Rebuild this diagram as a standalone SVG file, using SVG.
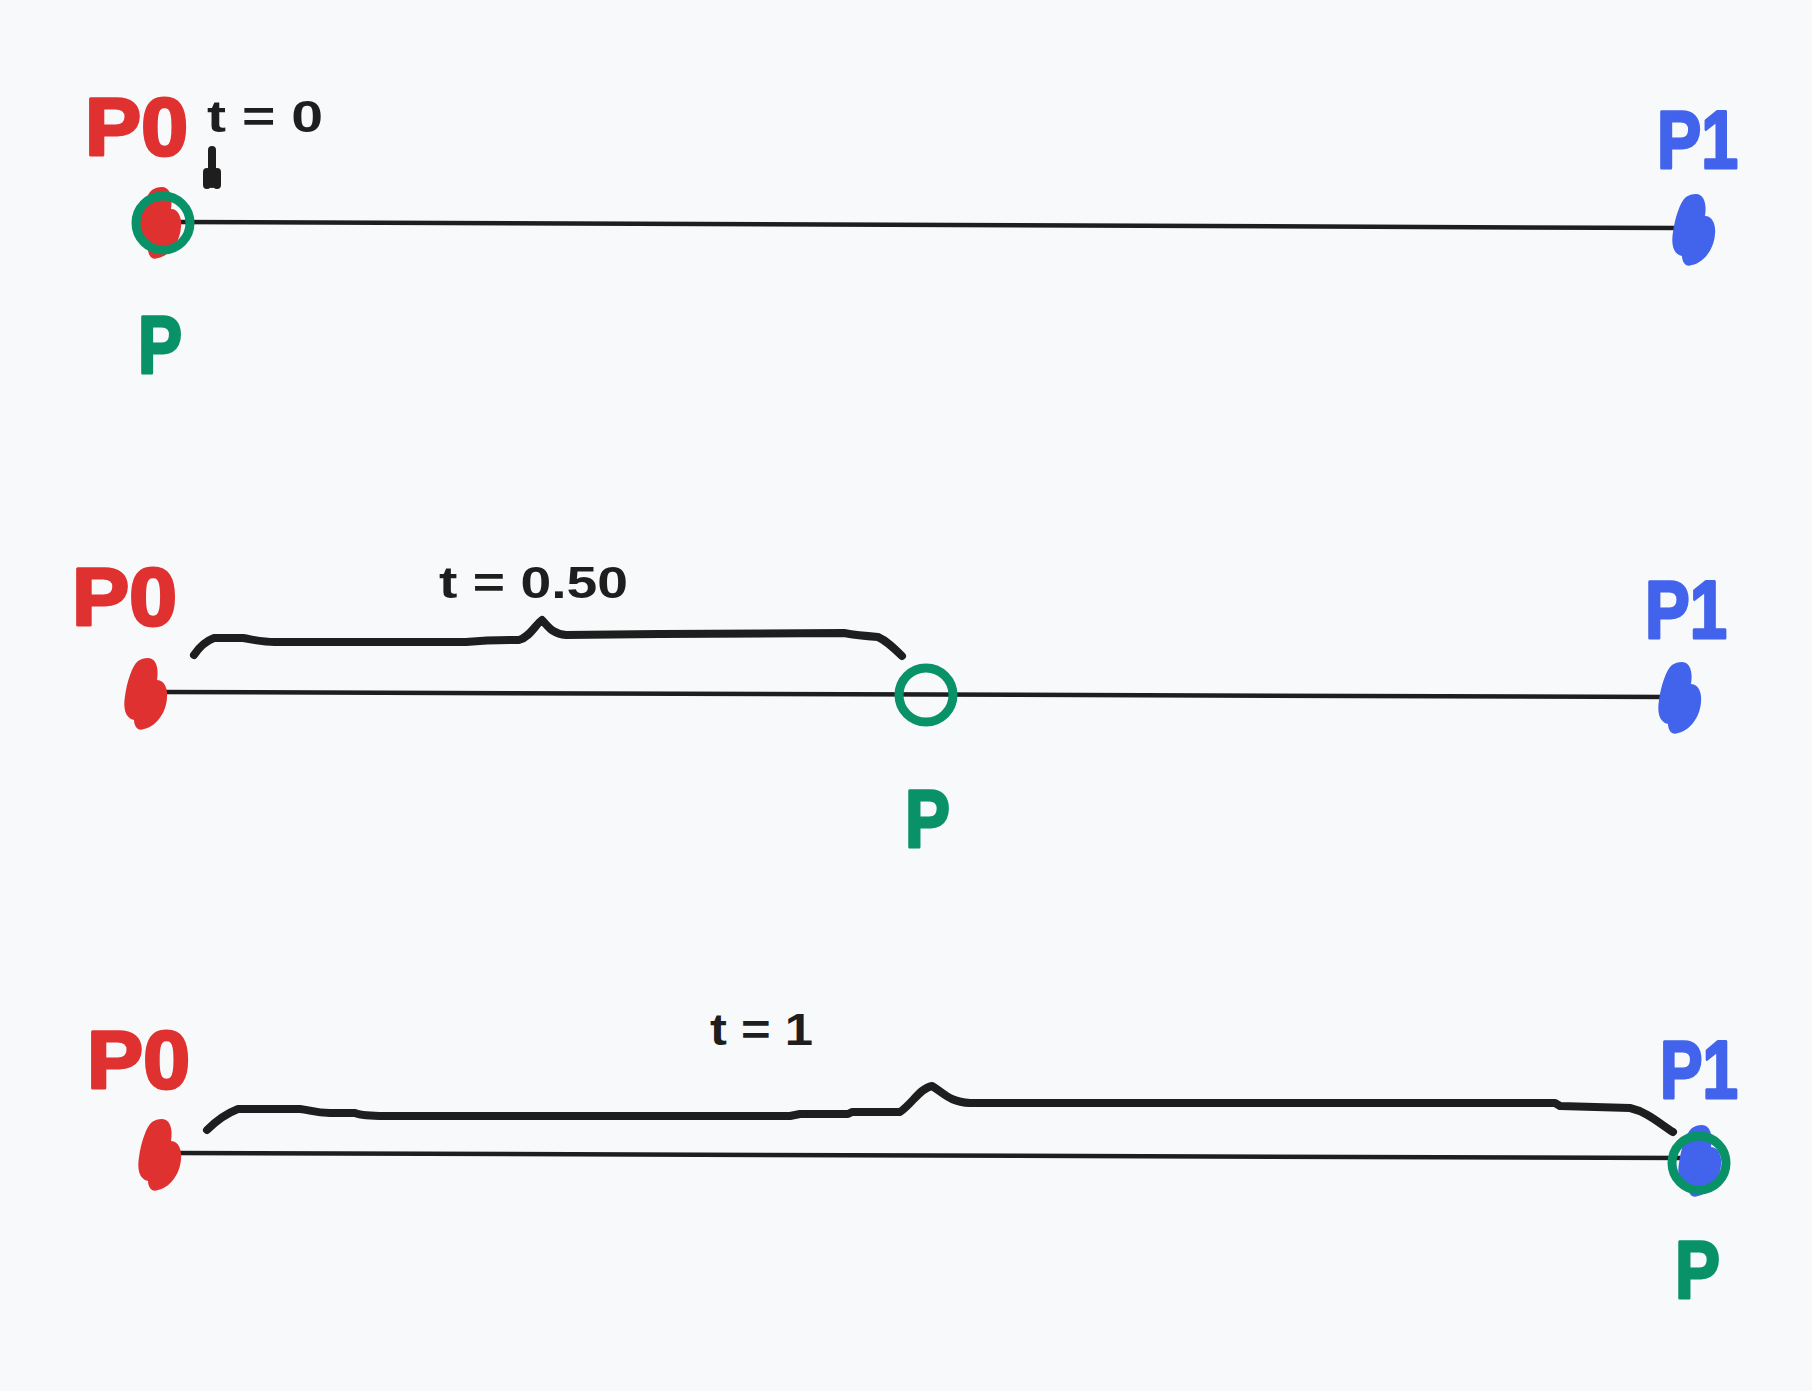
<svg xmlns="http://www.w3.org/2000/svg" width="1812" height="1391" viewBox="0 0 1812 1391">
<style>
.bg{fill:#f8f9fa}
.ln{fill:none;stroke:#1e1e1e;stroke-width:4.5;stroke-linecap:round}
.br{fill:none;stroke:#1e1e1e;stroke-width:8;stroke-linecap:round;stroke-linejoin:round}
.lbl{font-family:"Liberation Sans",Arial,sans-serif;font-weight:bold;font-size:82px;stroke-width:3;stroke-linejoin:round}
.red{fill:#e03131;stroke:#e03131}
.blue{fill:#4263eb;stroke:#4263eb}
.green{fill:#099268;stroke:#099268}
.tt{font-family:"Liberation Sans",Arial,sans-serif;font-weight:bold;font-size:44px;fill:#1e1e1e}
.ring{fill:none;stroke:#099268;stroke-width:9}
.dr{fill:#e03131}
.db{fill:#4263eb}
</style>
<defs>
<path id="blob" d="M2,-36 C10,-36 13,-26 11,-14 C19,-14 22,-4 21,4 C20,20 9,33 -2,35 C-8,38 -12,32 -12,26 C-21,24 -23,14 -21,2 C-19,-12 -14,-28 -8,-33 C-5,-35 -2,-36 2,-36 Z"/>
</defs>
<rect class="bg" x="0" y="0" width="1812" height="1391"/>
<g id="connectors">
<path class="ln" d="M175,222 L1680,228"/>
<path class="ln" d="M160,692 L1670,697"/>
<path class="ln" d="M175,1153 L1685,1158"/>
<path class="br" d="M212,150 L212,184 M207,172 L207,185 M217,172 L217,185"/>
<path class="br" d="M194,655 C200,646 206,641 214,638 L243,638 C255,640 262,642 275,642 L466,642 C490,640 505,640 519,640 C530,637 536,624 542,620 C548,626 552,634 566,635 L660,634 L844,633 C855,635 865,636 878,637 C887,641 894,648 902,656"/>
<path class="br" d="M207,1130 C215,1122 225,1114 238,1109 L300,1109 C310,1110 315,1113 330,1113 L355,1113 C360,1115 370,1116 385,1116 L790,1116 L800,1114 L848,1114 L852,1112 L900,1112 C912,1104 920,1088 932,1086 C945,1094 950,1102 970,1103 L1555,1103 L1560,1106 L1630,1108 C1648,1112 1660,1124 1673,1132"/>
</g>
<g id="p0-top"><text class="lbl red" x="85" y="155" textLength="103" lengthAdjust="spacingAndGlyphs">P0</text></g>
<g id="t0-label"><text class="tt" x="207" y="132" textLength="116" lengthAdjust="spacingAndGlyphs">t = 0</text></g>
<g id="dot-p0-top"><use href="#blob" class="dr" transform="translate(160,223)"/></g>
<g id="p-top"><circle class="ring" cx="163" cy="223" r="27"/></g>
<g id="p-top-label"><text class="lbl green" x="138" y="373" textLength="44" lengthAdjust="spacingAndGlyphs">P</text></g>
<g id="p1-top"><text class="lbl blue" x="1657" y="168" textLength="81" lengthAdjust="spacingAndGlyphs">P1</text></g>
<g id="dot-p1-top"><use href="#blob" class="db" transform="translate(1694,230)"/></g>

<g id="p0-mid"><text class="lbl red" x="72" y="625" textLength="105" lengthAdjust="spacingAndGlyphs">P0</text></g>
<g id="t050-label"><text class="tt" x="439" y="598" textLength="189" lengthAdjust="spacingAndGlyphs">t = 0.50</text></g>
<g id="dot-p0-mid"><use href="#blob" class="dr" transform="translate(146,694)"/></g>
<g id="p-mid"><circle class="ring" cx="926" cy="695" r="27"/></g>
<g id="p-mid-label"><text class="lbl green" x="905" y="847" textLength="45" lengthAdjust="spacingAndGlyphs">P</text></g>
<g id="p1-mid"><text class="lbl blue" x="1645" y="638" textLength="82" lengthAdjust="spacingAndGlyphs">P1</text></g>
<g id="dot-p1-mid"><use href="#blob" class="db" transform="translate(1680,698)"/></g>

<g id="p0-bot"><text class="lbl red" x="87" y="1088" textLength="103" lengthAdjust="spacingAndGlyphs">P0</text></g>
<g id="t1-label"><text class="tt" x="710" y="1045" textLength="103" lengthAdjust="spacingAndGlyphs">t = 1</text></g>
<g id="dot-p0-bot"><use href="#blob" class="dr" transform="translate(160,1155)"/></g>
<g id="p1-bot"><text class="lbl blue" x="1660" y="1098" textLength="78" lengthAdjust="spacingAndGlyphs">P1</text></g>
<g id="dot-p1-bot"><use href="#blob" class="db" transform="translate(1700,1161)"/></g>
<g id="p-bot"><circle class="ring" cx="1699" cy="1163" r="27"/></g>
<g id="p-bot-label"><text class="lbl green" x="1675" y="1298" textLength="45" lengthAdjust="spacingAndGlyphs">P</text></g>
</svg>
